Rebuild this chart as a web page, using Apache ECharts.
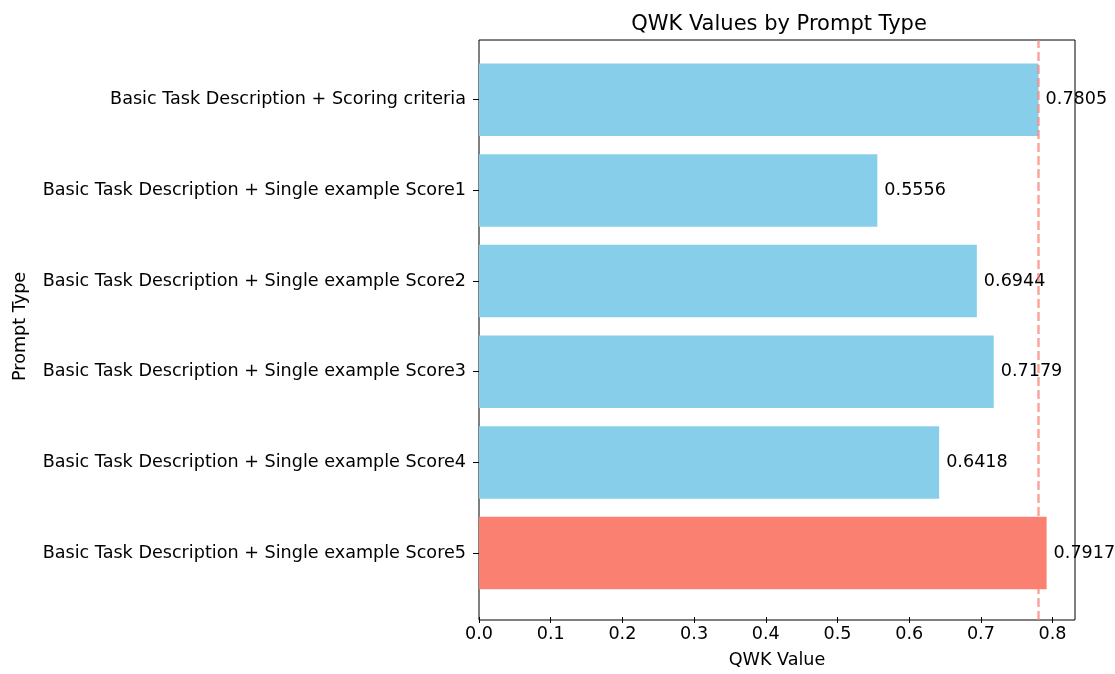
<!DOCTYPE html>
<html>
<head>
<meta charset="utf-8">
<script src="https://cdn.jsdelivr.net/npm/echarts@6/dist/echarts.min.js"></script>
<style>
  html, body { margin: 0; padding: 0; background: #fff; }
  #main { width: 1115px; height: 674px; }
</style>
</head>
<body>
<div id="main"></div>
<script>
// 数据
const promptTypes = [
  'Basic Task Description + Scoring criteria',
  'Basic Task Description + Single example Score1',
  'Basic Task Description + Single example Score2',
  'Basic Task Description + Single example Score3',
  'Basic Task Description + Single example Score4',
  'Basic Task Description + Single example Score5'
];
const qwkValues = [0.7805, 0.5556, 0.6944, 0.7179, 0.6418, 0.7917];
const referenceValue = 0.7805; // 虚线位置
const xTicks = [0.0, 0.1, 0.2, 0.3, 0.4, 0.5, 0.6, 0.7, 0.8];

// 最大值高亮
const maxIndex = qwkValues.indexOf(Math.max(...qwkValues));
const xMax = Math.max(...qwkValues) * 1.05;

var chart = echarts.init(document.getElementById('main'));

const font = 'DejaVu Sans';
const fs = 17.6;

const option = {
  animation: false,
  title: {
    text: 'QWK Values by Prompt Type',
    left: 774,
    textAlign: 'center',
    top: 9,
    textStyle: { fontFamily: font, fontSize: 21, fontWeight: 'normal', color: '#000' }
  },
  grid: [
    // 柱状图区域
    { left: 479, right: 40, top: 54.4, bottom: 72.6 },
    // 外框区域
    { left: 479, right: 40, top: 40, bottom: 54, show: true, borderColor: '#000', borderWidth: 1, backgroundColor: 'transparent' }
  ],
  xAxis: [
    {
      type: 'value',
      gridIndex: 0,
      min: 0,
      max: xMax,
      interval: 0.1,
      offset: 18.6,
      name: 'QWK Value',
      nameLocation: 'middle',
      nameGap: 34,
      nameTextStyle: { fontFamily: font, fontSize: fs, color: '#000' },
      axisLine: { show: false },
      axisTick: { show: true, length: 6, lineStyle: { color: '#000' } },
      axisLabel: {
        fontFamily: font, fontSize: fs, color: '#000', margin: 8,
        showMaxLabel: false,
        formatter: v => xTicks.some(t => Math.abs(t - v) < 1e-9) ? v.toFixed(1) : ''
      },
      splitLine: { show: false }
    },
    {
      type: 'value', gridIndex: 1, min: 0, max: xMax, show: false
    }
  ],
  yAxis: [
    {
      type: 'category',
      gridIndex: 0,
      data: promptTypes,
      inverse: true,
      name: 'Prompt Type',
      nameLocation: 'middle',
      nameRotate: 90,
      nameGap: 450,
      nameTextStyle: { fontFamily: font, fontSize: fs, color: '#000' },
      axisLine: { show: false },
      axisTick: { show: true, alignWithLabel: true, length: 6, lineStyle: { color: '#000' } },
      axisLabel: { fontFamily: font, fontSize: fs, color: '#000', margin: 13 }
    },
    {
      type: 'value', gridIndex: 1, min: 0, max: 1, show: false
    }
  ],
  series: [
    {
      name: 'QWK',
      type: 'bar',
      xAxisIndex: 0,
      yAxisIndex: 0,
      barWidth: '80%',
      data: qwkValues.map((v, i) => ({
        value: v,
        itemStyle: { color: i === maxIndex ? '#FA8072' : '#87CEEB' }
      })),
      label: {
        show: true,
        position: 'right',
        distance: 7,
        fontFamily: font,
        fontSize: fs,
        color: '#000',
        formatter: p => p.value.toFixed(4)
      }
    },
    {
      name: 'ref',
      type: 'scatter',
      xAxisIndex: 1,
      yAxisIndex: 1,
      data: [],
      silent: true,
      markLine: {
        symbol: 'none',
        silent: true,
        label: { show: false },
        lineStyle: { color: 'rgba(250,128,114,0.7)', type: [9, 4], width: 2.5 },
        data: [{ xAxis: referenceValue }]
      }
    }
  ]
};

chart.setOption(option);
</script>
</body>
</html>
